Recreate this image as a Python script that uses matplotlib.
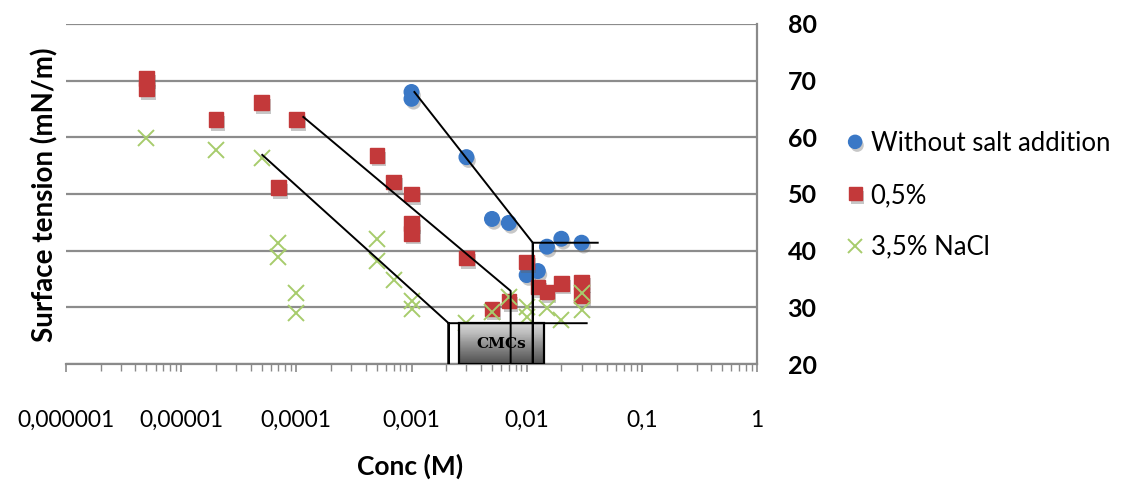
import numpy as np
import matplotlib
matplotlib.use("Agg")
import matplotlib.pyplot as plt
import matplotlib.patheffects as pe
from matplotlib.patches import Rectangle
from matplotlib.ticker import LogLocator, NullFormatter

plt.rcParams['font.family'] = ['Lato', 'DejaVu Sans']

# without salt addition
conc_nosalt = [0.001, 0.001, 0.003, 0.005, 0.007, 0.01, 0.0125, 0.015, 0.02, 0.03]
st_nosalt = [68.0, 66.8, 56.5, 45.6, 44.9, 35.7, 36.4, 40.7, 42.1, 41.4]

# 0,5 %
conc_05 = [5e-6, 5e-6, 2e-5, 5e-5, 7e-5, 1e-4, 5e-4, 7e-4, 0.001, 0.001, 0.001,
           0.003, 0.005, 0.007, 0.01, 0.0125, 0.015, 0.02, 0.03, 0.03]
st_05 = [70.4, 68.5, 63.1, 66.1, 51.1, 63.1, 56.8, 52.1, 50.0, 44.8, 43.0,
         38.7, 29.7, 31.1, 38.0, 33.6, 32.7, 34.2, 34.5, 32.1]

# 3,5 % NaCl
conc_35 = [5e-6, 2e-5, 5e-5, 7e-5, 7e-5, 1e-4, 1e-4, 5e-4, 5e-4, 7e-4, 0.001, 0.001,
           0.003, 0.005, 0.007, 0.01, 0.01, 0.015, 0.02, 0.03, 0.03]
st_35 = [59.8, 57.8, 56.3, 41.3, 38.8, 32.6, 29.0, 42.0, 38.2, 34.8, 31.2, 29.7,
         27.2, 29.1, 31.8, 30.1, 28.3, 29.9, 27.8, 32.6, 29.6]

# guide lines drawn by hand on the original (x, y pairs)
guide_nosalt = ([0.00106, 0.0113, 0.0113, 0.0113, 0.0414], [68.0, 41.4, 20.0, 41.4, 41.4])
guide_05 = ([0.000115, 0.00726, 0.00726], [63.6, 32.9, 20.0])
guide_35 = ([5.06e-5, 0.0021, 0.0021, 0.0021, 0.0332], [56.9, 27.2, 20.0, 27.2, 27.2])
cmc_box = (0.00261, 0.0141, 20.0, 27.2)

xticks = [1e-6, 1e-5, 1e-4, 1e-3, 1e-2, 1e-1, 1]
xlabels = ['0,000001', '0,00001', '0,0001', '0,001', '0,01', '0,1', '1']
yticks = [20, 30, 40, 50, 60, 70, 80]

fig = plt.figure(figsize=(11.23, 4.82), dpi=100)
ax = fig.add_axes([66 / 1123, 1 - 364 / 482, (757 - 66) / 1123, 340 / 482])

shadow = [pe.SimplePatchShadow(offset=(1.5, -2.5), shadow_rgbFace='#606060', alpha=0.35), pe.Normal()]

ax.plot(conc_nosalt, st_nosalt, 'o', ms=10.5, color='#3a78c6', mec='#3a78c6',
        label='Without salt addition', path_effects=shadow, zorder=3)
ax.plot(conc_05, st_05, 's', ms=10.5, color='#c3393a', mec='#c3393a',
        label='0,5%', path_effects=shadow, zorder=3)
ax.plot(conc_35, st_35, 'x', ms=11, mew=1.4, color='#a7cc6c',
        label='3,5% NaCl', zorder=3)

# CMC box with grey gradient
x0, x1, y0, y1 = cmc_box
grad = np.linspace(0, 1, 100).reshape(-1, 1)
ax.imshow(grad, extent=[x0, x1, y0, y1], cmap='Greys', vmin=-0.5, vmax=1.5,
          aspect='auto', origin='upper', zorder=4)
ax.add_patch(Rectangle((x0, y0), x1 - x0, y1 - y0, fill=False, ec='black', lw=1.6, zorder=5))
ax.text(np.sqrt(x0 * x1), (y0 + y1) / 2, 'CMCs', ha='center', va='center',
        fontsize=11, fontweight='bold', family='DejaVu Serif', zorder=6)

for gx, gy in [guide_nosalt, guide_05, guide_35]:
    ax.plot(gx, gy, color='black', lw=1.4, zorder=6)

ax.set_xscale('log')
ax.set_xlim(1e-6, 1)
ax.set_ylim(20, 80)
ax.set_xticks(xticks)
ax.set_xticklabels(xlabels, fontsize=16.5)
ax.xaxis.set_minor_locator(LogLocator(base=10, subs=np.arange(2, 10)))
ax.xaxis.set_minor_formatter(NullFormatter())
ax.tick_params(axis='x', which='major', length=6, width=1.2, color='#8a8a8a', pad=27)
ax.tick_params(axis='x', which='minor', length=5, width=1.0, color='#8a8a8a')

ax.yaxis.tick_right()
ax.set_yticks(yticks)
ax.tick_params(axis='y', length=0, pad=22, labelsize=18)
for lab in ax.get_yticklabels():
    lab.set_fontweight('bold')

ax.grid(axis='y', color='#8c8c8c', lw=1.6)
ax.set_axisbelow(True)
for s in ['left', 'top']:
    ax.spines[s].set_visible(False)
ax.spines['bottom'].set_color('#8a8a8a')
ax.spines['bottom'].set_linewidth(1.6)
ax.spines['right'].set_color('#8a8a8a')
ax.spines['right'].set_linewidth(1.6)

fig.text(45 / 1123, 1 - 195 / 482, 'Surface tension (mN/m)', rotation=90, ha='center',
         va='center', fontsize=20, fontweight='bold')
fig.text(410 / 1123, 1 - 466 / 482, 'Conc (M)', ha='center', va='center',
         fontsize=19, fontweight='bold')

fig.legend(loc='upper left', bbox_to_anchor=(832 / 1123, 1 - 118 / 482), frameon=False,
           fontsize=18.5, labelspacing=1.05, handlelength=0.8, handletextpad=0.2,
           borderpad=0, markerscale=0.9)

fig.savefig('out.png', dpi=100)
